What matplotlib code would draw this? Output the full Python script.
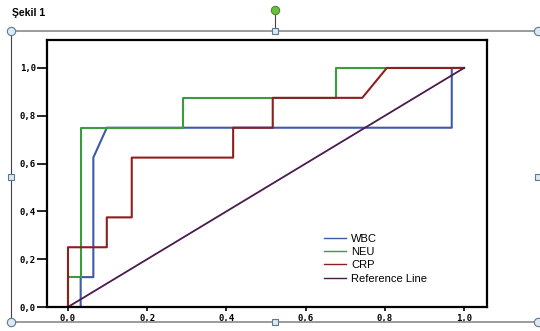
import matplotlib
matplotlib.use("Agg")
import matplotlib.pyplot as plt
from matplotlib.lines import Line2D

# ROC curve points (1 - specificity, sensitivity)
wbc_x = [0.0, 0.032, 0.032, 0.064, 0.064, 0.098, 0.969, 0.969, 1.0]
wbc_y = [0.0, 0.0, 0.125, 0.125, 0.625, 0.75, 0.75, 1.0, 1.0]
neu_x = [0.0, 0.0, 0.032, 0.032, 0.291, 0.291, 0.677, 0.677, 1.0]
neu_y = [0.0, 0.125, 0.125, 0.75, 0.75, 0.875, 0.875, 1.0, 1.0]
crp_x = [0.0, 0.0, 0.098, 0.098, 0.161, 0.161, 0.417, 0.417, 0.517, 0.517, 0.743, 0.805, 1.0]
crp_y = [0.0, 0.25, 0.25, 0.375, 0.375, 0.625, 0.625, 0.75, 0.75, 0.875, 0.875, 1.0, 1.0]
ref_x = [0.0, 1.0]
ref_y = [0.0, 1.0]

ticks = [0.0, 0.2, 0.4, 0.6, 0.8, 1.0]
tick_labels = ["0,0", "0,2", "0,4", "0,6", "0,8", "1,0"]

W, H = 540, 331
fig = plt.figure(figsize=(W / 100, H / 100), dpi=100)

def fx(px):
    return px / W

def fy(py):
    return 1 - py / H

# document frame with selection handles
gray = "#8a8a8a"
fig.add_artist(Line2D([fx(11), fx(538)], [fy(31), fy(31)], color=gray, lw=1.2))
fig.add_artist(Line2D([fx(11), fx(538)], [fy(322), fy(322)], color=gray, lw=1.2))
fig.add_artist(Line2D([fx(11), fx(11)], [fy(31), fy(322)], color="#444444", lw=0.8))
fig.add_artist(Line2D([fx(275), fx(275)], [fy(11), fy(31)], color="#444444", lw=0.8))
hx = [fx(11), fx(538), fx(11), fx(538)]
hy = [fy(31), fy(31), fy(322), fy(322)]
fig.add_artist(Line2D(hx, hy, ls="none", marker="o", ms=6, mfc="#dce8f2",
                      mec="#5a7a96", mew=0.8))
sx = [fx(275), fx(275), fx(11), fx(538)]
sy = [fy(31), fy(322), fy(177), fy(177)]
fig.add_artist(Line2D(sx, sy, ls="none", marker="s", ms=4.5, mfc="#dce8f2",
                      mec="#5a7a96", mew=0.8))
fig.add_artist(Line2D([fx(275)], [fy(10)], ls="none", marker="o", ms=6,
                      mfc="#6abf40", mec="#4a8a30", mew=0.8))
fig.text(fx(12), fy(13), "Şekil 1", fontsize=7.5, fontweight="bold",
         family="Liberation Sans", va="center", ha="left")

ax = fig.add_axes([fx(47), fy(307), fx(487) - fx(47), fy(40) - fy(307)])
ax.plot(wbc_x, wbc_y, color="#3d5aa6", lw=1.5, label="WBC")
ax.plot(neu_x, neu_y, color="#3c9c3c", lw=1.5, label="NEU")
ax.plot(crp_x, crp_y, color="#8e1f1f", lw=1.5, label="CRP")
ax.plot(ref_x, ref_y, color="#4a1a4c", lw=1.3, label="Reference Line")

ax.set_xlim(-0.053, 1.058)
ax.set_ylim(0, 1.117)
ax.set_xticks(ticks)
ax.set_xticklabels(tick_labels)
ax.set_yticks(ticks)
ax.set_yticklabels(tick_labels)
for lab in ax.get_xticklabels() + ax.get_yticklabels():
    lab.set_family("DejaVu Sans Mono")
    lab.set_fontweight("bold")
    lab.set_fontsize(6.5)
ax.tick_params(axis="x", length=3, width=1.2, pad=2)
ax.tick_params(axis="y", length=7, width=1.2, pad=1)
for sp in ax.spines.values():
    sp.set_linewidth(1.6)
    sp.set_color("black")

leg = ax.legend(loc="upper left", bbox_to_anchor=((318 - 47) / 440, (307 - 228) / 267),
                frameon=False, handlelength=2.0, handletextpad=0.5,
                labelspacing=0.3, borderpad=0, prop={"family": "Liberation Sans", "size": 8})
for line in leg.get_lines():
    line.set_linewidth(1.0)

fig.savefig("out.png", dpi=100)
